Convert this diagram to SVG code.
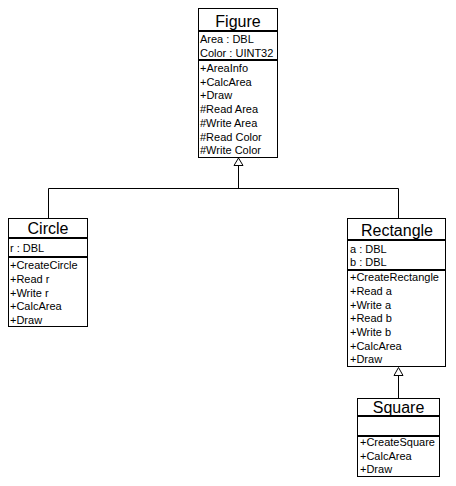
<svg xmlns="http://www.w3.org/2000/svg" width="456" height="486" viewBox="0 0 456 486">
<style>
.box{fill:#fff;stroke:#000;stroke-width:1}
.div{stroke:#000;stroke-width:2}
.t{font-family:"Liberation Sans",Arial,sans-serif;font-size:16px;fill:#000;text-anchor:middle}
.m{font-family:"Liberation Sans",Arial,sans-serif;font-size:11px;fill:#000}
.ln{fill:none;stroke:#000;stroke-width:1}
.tri{fill:#fff;stroke:#000;stroke-width:1}
</style>
<rect width="456" height="486" fill="#fff"/>
<g id="connectors">
<polyline class="ln" points="238.5,165 238.5,188.5"/>
<polyline class="ln" points="48.5,218 48.5,188.5 398.5,188.5 398.5,218"/>
<polygon class="tri" points="238.5,158 234,165.5 243,165.5"/>
<line class="ln" x1="398.5" y1="375" x2="398.5" y2="398"/>
<polygon class="tri" points="398.5,367.5 394,375.5 403,375.5"/>
</g>
<g id="Figure">
<rect class="box" x="198.5" y="8.5" width="79" height="149"/>
<line class="div" x1="198" y1="31" x2="278" y2="31"/>
<line class="div" x1="198" y1="60" x2="278" y2="60"/>
<text class="t" x="238" y="27">Figure</text>
<text class="m" x="200" y="43">Area : DBL</text>
<text class="m" x="200" y="57">Color : UINT32</text>
<text class="m" x="200" y="72">+AreaInfo</text>
<text class="m" x="200" y="85.5">+CalcArea</text>
<text class="m" x="200" y="99">+Draw</text>
<text class="m" x="200" y="113">#Read Area</text>
<text class="m" x="200" y="127">#Write Area</text>
<text class="m" x="200" y="140.5">#Read Color</text>
<text class="m" x="200" y="154">#Write Color</text>
</g>
<g id="Circle">
<rect class="box" x="8.5" y="218.5" width="79" height="108"/>
<line class="div" x1="8" y1="238" x2="88" y2="238"/>
<line class="div" x1="8" y1="257" x2="88" y2="257"/>
<text class="t" x="48" y="234">Circle</text>
<text class="m" x="10" y="252">r : DBL</text>
<text class="m" x="10" y="269">+CreateCircle</text>
<text class="m" x="10" y="282.5">+Read r</text>
<text class="m" x="10" y="296.5">+Write r</text>
<text class="m" x="10" y="310">+CalcArea</text>
<text class="m" x="10" y="324">+Draw</text>
</g>
<g id="Rectangle">
<rect class="box" x="347.5" y="218.5" width="98" height="148"/>
<line class="div" x1="347" y1="240" x2="446" y2="240"/>
<line class="div" x1="347" y1="270" x2="446" y2="270"/>
<text class="t" x="397" y="236">Rectangle</text>
<text class="m" x="350" y="253">a : DBL</text>
<text class="m" x="350" y="266">b : DBL</text>
<text class="m" x="350" y="281">+CreateRectangle</text>
<text class="m" x="350" y="295">+Read a</text>
<text class="m" x="350" y="308.5">+Write a</text>
<text class="m" x="350" y="322">+Read b</text>
<text class="m" x="350" y="336">+Write b</text>
<text class="m" x="350" y="349.5">+CalcArea</text>
<text class="m" x="350" y="363">+Draw</text>
</g>
<g id="Square">
<rect class="box" x="357.5" y="398.5" width="82" height="78"/>
<line class="div" x1="357" y1="416" x2="440" y2="416"/>
<line class="div" x1="357" y1="436" x2="440" y2="436"/>
<text class="t" x="398.5" y="413">Square</text>
<text class="m" x="360" y="446">+CreateSquare</text>
<text class="m" x="360" y="460">+CalcArea</text>
<text class="m" x="360" y="473">+Draw</text>
</g>
</svg>
